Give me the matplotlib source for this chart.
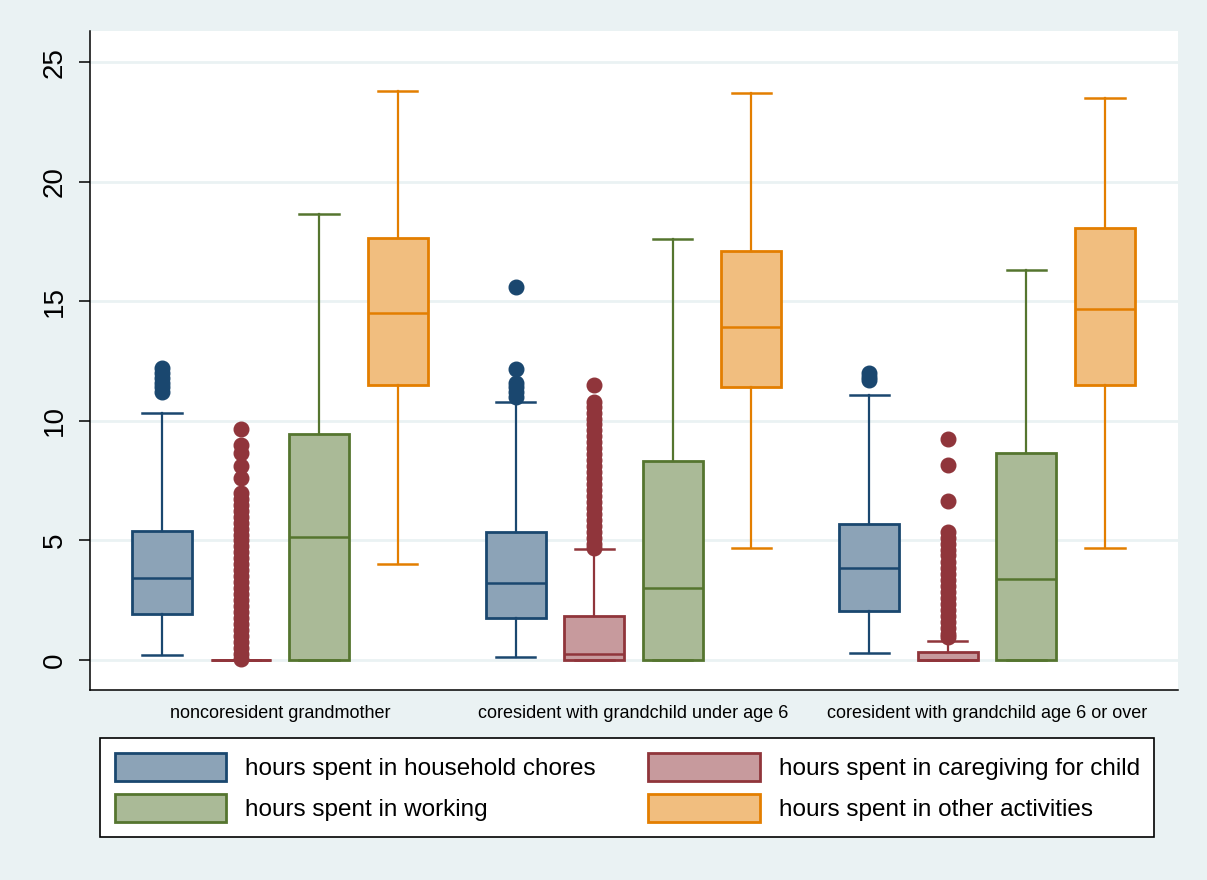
"""
Box plots of daily time use for grandmothers by living arrangement.
Four activities per group, drawn with Stata s2color-like styling.
"""

import matplotlib
matplotlib.use("Agg")
import matplotlib.pyplot as plt
from matplotlib.patches import Patch

plt.rcParams["font.family"] = ["Liberation Sans", "DejaVu Sans"]

groups = ["noncoresident grandmother",
          "coresident with grandchild under age 6",
          "coresident with grandchild age 6 or over"]

series = ["hours spent in household chores",
          "hours spent in caregiving for child",
          "hours spent in working",
          "hours spent in other activities"]

# box statistics, one row per series, one column per group
whislo = [[0.21, 0.14, 0.28],
          [0.00, 0.00, 0.00],
          [0.00, 0.00, 0.00],
          [4.01, 4.68, 4.68]]
q1 = [[1.92, 1.77, 2.06],
      [0.00, 0.00, 0.00],
      [0.00, 0.00, 0.00],
      [11.50, 11.41, 11.50]]
med = [[3.43, 3.23, 3.83],
       [0.00, 0.24, 0.00],
       [5.14, 3.00, 3.39],
       [14.51, 13.92, 14.67]]
q3 = [[5.39, 5.35, 5.71],
      [0.00, 1.84, 0.32],
      [9.45, 8.32, 8.65],
      [17.64, 17.10, 18.06]]
whishi = [[10.33, 10.80, 11.08],
          [0.00, 4.63, 0.79],
          [18.65, 17.60, 16.30],
          [23.79, 23.70, 23.49]]

# outside values
chores_out = [[12.2, 12.0, 11.8, 11.6, 11.4, 11.2],
              [15.58, 12.18, 11.6, 11.4, 11.2, 11.0],
              [12.0, 11.85, 11.7]]
care_out = [[9.65, 9.0, 8.65, 8.1, 7.6, 7.0, 6.75, 6.5, 6.25, 6.0, 5.75,
             5.5, 5.25, 5.0, 4.75, 4.5, 4.25, 4.0, 3.75, 3.5, 3.25, 3.0,
             2.75, 2.5, 2.25, 2.0, 1.75, 1.5, 1.25, 1.0, 0.75, 0.5, 0.25,
             0.05],
            [11.5, 10.8, 10.6, 10.35, 10.1, 9.85, 9.6, 9.35, 9.1, 8.85,
             8.6, 8.35, 8.1, 7.85, 7.6, 7.35, 7.1, 6.85, 6.6, 6.35, 6.1,
             5.85, 5.6, 5.35, 5.1, 4.85, 4.7],
            [9.25, 8.17, 6.66, 5.35, 5.1, 4.85, 4.6, 4.4, 4.1, 3.85, 3.6,
             3.35, 3.1, 2.85, 2.6, 2.35, 2.1, 1.85, 1.6, 1.35, 1.1, 0.95]]
work_out = [[], [], []]
other_out = [[], [], []]
fliers = [chores_out, care_out, work_out, other_out]

edge_colors = ["#1A476F", "#90353B", "#55752F", "#E37E00"]
fill_colors = ["#8CA3B7", "#C79A9D", "#AABA97", "#F1BE7F"]

BG = "#EAF2F3"
GROUP_STEP = 4.5
BOX_W = 0.765
CAP_W = 0.5


def main():
    fig = plt.figure(figsize=(12.07, 8.80), dpi=100, facecolor=BG)
    ax = fig.add_axes([90 / 1207, 190 / 880, 1088 / 1207, 659 / 880])
    ax.set_facecolor("white")

    for s in range(len(series)):
        stats = []
        for g in range(len(groups)):
            stats.append(dict(med=med[s][g], q1=q1[s][g], q3=q3[s][g],
                              whislo=whislo[s][g], whishi=whishi[s][g],
                              fliers=fliers[s][g]))
        pos = [g * GROUP_STEP + s for g in range(len(groups))]
        ec = edge_colors[s]
        ax.bxp(stats, positions=pos, widths=BOX_W, capwidths=CAP_W,
               patch_artist=True, manage_ticks=False,
               boxprops=dict(facecolor=fill_colors[s], edgecolor=ec, linewidth=2.0),
               medianprops=dict(color=ec, linewidth=1.8),
               whiskerprops=dict(color=ec, linewidth=1.6),
               capprops=dict(color=ec, linewidth=1.8),
               flierprops=dict(marker="o", markerfacecolor=ec, markeredgecolor=ec,
                               markersize=10.5, linestyle="none"))

    ax.set_xlim(-0.916, 12.93)
    ax.set_ylim(-1.25, 26.3)
    ax.set_yticks([0, 5, 10, 15, 20, 25])
    ax.set_yticklabels(["0", "5", "10", "15", "20", "25"], rotation=90,
                       va="center", fontsize=20)
    ax.tick_params(axis="y", length=8, width=1.1, pad=8)
    ax.set_xticks([g * GROUP_STEP + 1.5 for g in range(len(groups))])
    ax.set_xticklabels(groups, fontsize=13)
    ax.tick_params(axis="x", length=0, pad=11)

    ax.grid(axis="y", color=BG, linewidth=2.0)
    ax.set_axisbelow(True)
    for side in ["top", "right"]:
        ax.spines[side].set_visible(False)
    for side in ["left", "bottom"]:
        ax.spines[side].set_linewidth(1.1)

    # legend: row-wise reading order with two columns
    order = [0, 2, 1, 3]
    handles = [Patch(facecolor=fill_colors[i], edgecolor=edge_colors[i],
                     linewidth=2.0, label=series[i]) for i in order]
    leg = fig.legend(handles=handles, ncol=2, loc="upper left",
                     bbox_to_anchor=(100 / 1207, 1 - 738 / 880),
                     fontsize=17.5, handlelength=4.6, handleheight=1.4,
                     handletextpad=0.78, labelspacing=0.56, borderpad=0.6,
                     columnspacing=2.14, fancybox=False, frameon=True,
                     framealpha=1, borderaxespad=0)
    leg.get_frame().set_edgecolor("black")
    leg.get_frame().set_linewidth(1.2)
    leg.get_frame().set_facecolor("white")

    fig.savefig("out.png", dpi=100, facecolor=BG)
    plt.close(fig)


if __name__ == "__main__":
    main()
